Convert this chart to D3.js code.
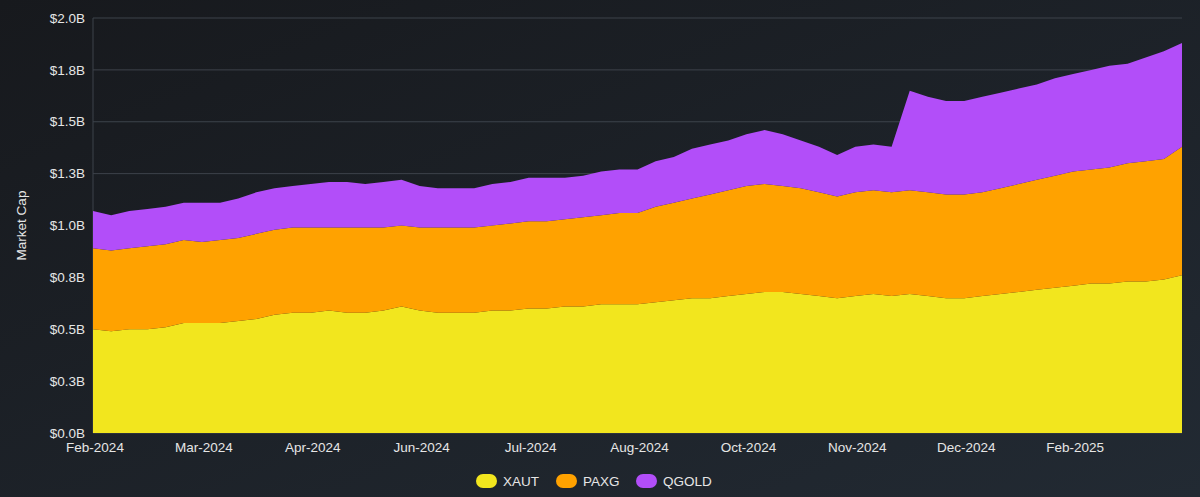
<!DOCTYPE html>
<html>
<head>
<meta charset="utf-8">
<script src="https://cdn.jsdelivr.net/npm/d3@7"></script>
<style>
  body { margin: 0; background: #1b1f24; }
  svg { display: block; font-family: 'Liberation Sans', Inter, sans-serif; }
</style>
</head>
<body>
<svg id="chart" width="1200" height="497"></svg>
<script>
// weekly-ish points, Feb-2024 .. Mar-2025 (values in $B)
const monthLabels = ['Feb-2024', 'Mar-2024', 'Apr-2024', 'Jun-2024', 'Jul-2024', 'Aug-2024', 'Oct-2024', 'Nov-2024', 'Dec-2024', 'Feb-2025']
const seriesNames = ['XAUT', 'PAXG', 'QGOLD']
const seriesColors = ['#f2e61e', '#ffa200', '#b24ef9']
const yTicks = [0, 0.25, 0.5, 0.75, 1.0, 1.25, 1.5, 1.75, 2.0]
const yTickLabels = ['$0.0B', '$0.3B', '$0.5B', '$0.8B', '$1.0B', '$1.3B', '$1.5B', '$1.8B', '$2.0B']

const xaut = [0.50, 0.49, 0.50, 0.50, 0.51, 0.53, 0.53,
  0.53, 0.54, 0.55, 0.57, 0.58, 0.58,
  0.59, 0.58, 0.58, 0.59, 0.61, 0.59,
  0.58, 0.58, 0.58, 0.59, 0.59, 0.60,
  0.60, 0.61, 0.61, 0.62, 0.62, 0.62,
  0.63, 0.64, 0.65, 0.65, 0.66, 0.67,
  0.68, 0.68, 0.67, 0.66, 0.65, 0.66,
  0.67, 0.66, 0.67, 0.66, 0.65, 0.65,
  0.66, 0.67, 0.68, 0.69, 0.70, 0.71,
  0.72, 0.72, 0.73, 0.73, 0.74, 0.76]
const paxg = [0.39, 0.39, 0.39, 0.40, 0.40, 0.40, 0.39,
  0.40, 0.40, 0.41, 0.41, 0.41, 0.41,
  0.40, 0.41, 0.41, 0.40, 0.39, 0.40,
  0.41, 0.41, 0.41, 0.41, 0.42, 0.42,
  0.42, 0.42, 0.43, 0.43, 0.44, 0.44,
  0.46, 0.47, 0.48, 0.50, 0.51, 0.52,
  0.52, 0.51, 0.51, 0.50, 0.49, 0.50,
  0.50, 0.50, 0.50, 0.50, 0.50, 0.50,
  0.50, 0.51, 0.52, 0.53, 0.54, 0.55,
  0.55, 0.56, 0.57, 0.58, 0.58, 0.62]
const qgold = [0.18, 0.17, 0.18, 0.18, 0.18, 0.18, 0.19,
  0.18, 0.19, 0.20, 0.20, 0.20, 0.21,
  0.22, 0.22, 0.21, 0.22, 0.22, 0.20,
  0.19, 0.19, 0.19, 0.20, 0.20, 0.21,
  0.21, 0.20, 0.20, 0.21, 0.21, 0.21,
  0.22, 0.22, 0.24, 0.24, 0.24, 0.25,
  0.26, 0.25, 0.23, 0.22, 0.20, 0.22,
  0.22, 0.22, 0.48, 0.46, 0.45, 0.45,
  0.46, 0.46, 0.46, 0.46, 0.47, 0.47,
  0.48, 0.49, 0.48, 0.50, 0.52, 0.50]

const svg = d3.select('#chart')
const W = 1200
const H = 497
const m = { l: 93, r: 18, t: 18, b: 64 }

// background gradient
const defs = svg.append('defs')
const grad = defs.append('linearGradient').attr('id', 'bg').attr('x1', 0).attr('y1', 0).attr('x2', 1).attr('y2', 1)
grad.append('stop').attr('offset', '0%').attr('stop-color', '#17191d')
grad.append('stop').attr('offset', '100%').attr('stop-color', '#222a33')
svg.append('rect').attr('width', W).attr('height', H).attr('fill', 'url(#bg)')

const rows = xaut.map((v, i) => ({ i: i, XAUT: v, PAXG: paxg[i], QGOLD: qgold[i] }))
const stacked = d3.stack().keys(seriesNames)(rows)

const x = d3.scaleLinear().domain([0, rows.length - 1]).range([m.l, W - m.r])
const y = d3.scaleLinear().domain([0, 2.0]).range([H - m.b, m.t])

// grid
svg.append('g').selectAll('line').data(yTicks).join('line')
  .attr('x1', m.l).attr('x2', W - m.r)
  .attr('y1', d => y(d)).attr('y2', d => y(d))
  .attr('stroke', '#3d434b').attr('stroke-width', 1)
svg.append('line').attr('x1', m.l).attr('x2', m.l).attr('y1', m.t).attr('y2', H - m.b)
  .attr('stroke', '#3d434b')

const area = d3.area().x(d => x(d.data.i)).y0(d => y(d[0])).y1(d => y(d[1])).curve(d3.curveLinear)
svg.append('g').selectAll('path').data(stacked).join('path')
  .attr('d', area).attr('fill', (d, i) => seriesColors[i])

// y axis labels
svg.append('g').selectAll('text').data(yTicks).join('text')
  .attr('x', m.l - 8).attr('y', d => y(d)).attr('dy', '0.35em')
  .attr('text-anchor', 'end').attr('fill', '#e6e6e6').attr('font-size', 13.5)
  .text((d, i) => yTickLabels[i])

svg.append('text').attr('transform', `translate(26,${(m.t + H - m.b) / 2}) rotate(-90)`)
  .attr('text-anchor', 'middle').attr('fill', '#e6e6e6').attr('font-size', 13.5)
  .text('Market Cap')

// x axis labels, one every 6 points
svg.append('g').selectAll('text').data(monthLabels).join('text')
  .attr('x', (d, i) => x(i * 6) + 2).attr('y', H - m.b + 19)
  .attr('text-anchor', 'middle').attr('fill', '#e6e6e6').attr('font-size', 13.5)
  .text(d => d)

// legend
const legend = svg.append('g').attr('transform', 'translate(476,481)')
const offsets = [0, 80, 160]
seriesNames.forEach((name, i) => {
  const g = legend.append('g').attr('transform', `translate(${offsets[i]},0)`)
  g.append('rect').attr('x', 0).attr('y', -7).attr('width', 21).attr('height', 14).attr('rx', 7)
    .attr('fill', seriesColors[i])
  g.append('text').attr('x', 27).attr('dy', '0.35em').attr('fill', '#e6e6e6')
    .attr('font-size', 13.5).text(name)
})
</script>
</body>
</html>
